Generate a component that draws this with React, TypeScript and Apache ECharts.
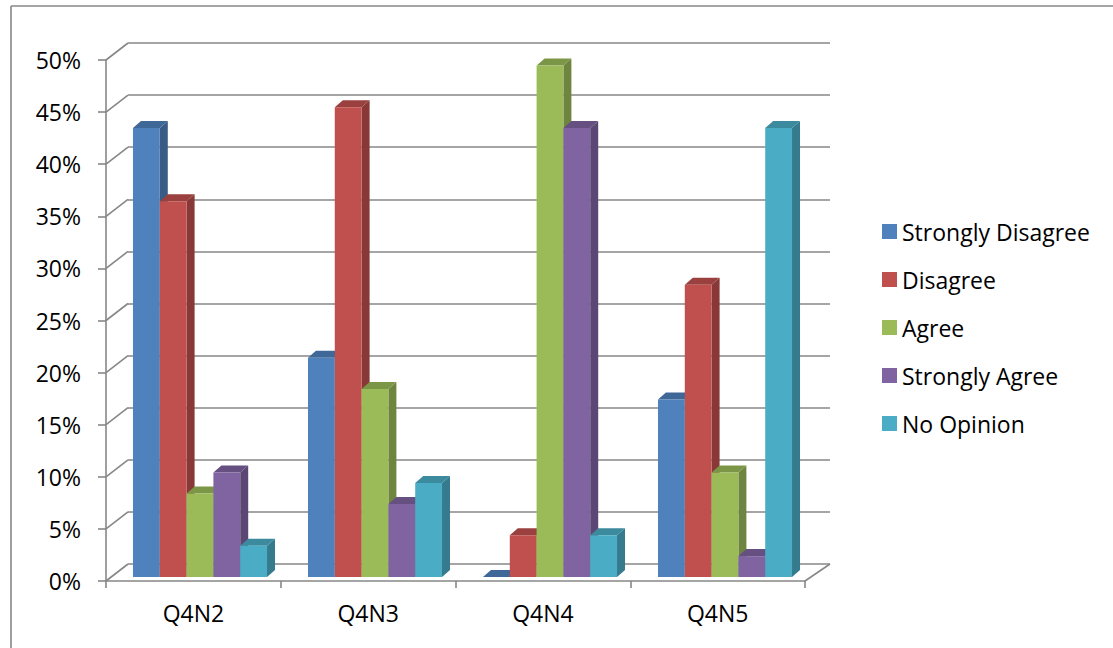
import React, { useEffect, useRef } from "react";
import * as echarts from "echarts";

const categories = ["Q4N2", "Q4N3", "Q4N4", "Q4N5"];
const seriesNames = ["Strongly Disagree", "Disagree", "Agree", "Strongly Agree", "No Opinion"];
const stronglyDisagree = [43, 21, 0, 17];
const disagree = [36, 45, 4, 28];
const agree = [8, 18, 49, 10];
const stronglyAgree = [10, 7, 43, 2];
const noOpinion = [3, 9, 4, 43];
const seriesValues = [stronglyDisagree, disagree, agree, stronglyAgree, noOpinion];
const yTicks = [0, 5, 10, 15, 20, 25, 30, 35, 40, 45, 50];

const colors = ["#4F81BD", "#C0504D", "#9BBB59", "#8064A2", "#4BACC6"];
const FONT = "Open Sans";
const FONT_SIZE = 23;
const GRID_COLOR = "#878787";
const GAP = 0.234;
const DX = 8;
const DY = -7;

function shade(hex: string, f: number) {
  const n = parseInt(hex.slice(1), 16);
  const r = Math.round(((n >> 16) & 255) * f);
  const g = Math.round(((n >> 8) & 255) * f);
  const b = Math.round((n & 255) * f);
  return `rgb(${r},${g},${b})`;
}

export default function App() {
  const ref = useRef<HTMLDivElement>(null);
  useEffect(() => {
    if (!ref.current) return;
    const chart = echarts.init(ref.current, null, { renderer: "svg" });
    const N = seriesNames.length;

    const barSeries = seriesNames.map((name, si) => ({
      name,
      type: "custom",
      xAxisIndex: 2,
      yAxisIndex: 2,
      clip: false,
      z: 5,
      itemStyle: { color: colors[si] },
      encode: { x: 0, y: 1 },
      data: seriesValues[si].map((v, i) => [i, v]),
      renderItem: (params: any, api: any) => {
        const cat = api.value(0);
        const v = api.value(1);
        const base = api.coord([cat, 0]);
        const top = api.coord([cat, v]);
        const catW = api.size([1, 0])[0];
        const bw = (catW * (1 - GAP)) / N;
        const x0 = base[0] - (catW * (1 - GAP)) / 2 + si * bw;
        const h = base[1] - top[1];
        return {
          type: "group",
          children: [
            {
              type: "polygon",
              shape: {
                points: [
                  [x0 + bw, top[1]],
                  [x0 + bw + DX, top[1] + DY],
                  [x0 + bw + DX, base[1] + DY],
                  [x0 + bw, base[1]],
                ],
              },
              style: { fill: shade(colors[si], 0.71) },
            },
            {
              type: "polygon",
              shape: {
                points: [
                  [x0, top[1]],
                  [x0 + DX, top[1] + DY],
                  [x0 + bw + DX, top[1] + DY],
                  [x0 + bw, top[1]],
                ],
              },
              style: { fill: shade(colors[si], 0.8) },
            },
            {
              type: "rect",
              shape: { x: x0, y: top[1], width: bw, height: h },
              style: { fill: colors[si] },
            },
          ],
        };
      },
    }));

    const diagSeries = {
      type: "custom",
      xAxisIndex: 1,
      yAxisIndex: 1,
      clip: false,
      silent: true,
      z: 1,
      data: yTicks.map((t) => [0, t]),
      encode: { x: 0, y: 1 },
      renderItem: (params: any, api: any) => {
        const v = api.value(1);
        const p = api.coord([0, v]);
        const cs = params.coordSys;
        const lx = cs.x;
        const children: any[] = [
          {
            type: "line",
            shape: { x1: lx, y1: p[1], x2: lx + 22, y2: p[1] - 17 },
            style: { stroke: GRID_COLOR, lineWidth: 1.6 },
          },
        ];
        if (v === 0) {
          const rx = cs.x + cs.width;
          children.push({
            type: "line",
            shape: { x1: rx, y1: p[1], x2: rx + 25, y2: p[1] - 17 },
            style: { stroke: GRID_COLOR, lineWidth: 1.6 },
          });
        }
        return { type: "group", children };
      },
    };

    chart.setOption({
      animation: false,
      backgroundColor: "#ffffff",
      textStyle: { fontFamily: FONT },
      grid: [
        { left: 128, top: 43, width: 702, height: 521 },
        { left: 106, top: 60, width: 699, height: 521 },
        { left: 112.5, top: 55, width: 700, height: 522 },
      ],
      xAxis: [
        { type: "category", gridIndex: 0, data: categories, show: false },
        {
          type: "category",
          gridIndex: 1,
          data: categories,
          axisLine: { show: true, lineStyle: { color: GRID_COLOR, width: 1.6 } },
          axisTick: { show: true, length: 7, lineStyle: { color: GRID_COLOR, width: 1.6 } },
          axisLabel: { color: "#000", fontSize: FONT_SIZE, fontFamily: FONT, margin: 20 },
        },
        { type: "category", gridIndex: 2, data: categories, show: false },
      ],
      yAxis: [
        {
          type: "value",
          gridIndex: 0,
          min: 0,
          max: 50,
          interval: 5,
          axisLine: { show: false },
          axisTick: { show: false },
          axisLabel: { show: false },
          splitLine: { show: true, lineStyle: { color: GRID_COLOR, width: 1.6 } },
        },
        {
          type: "value",
          gridIndex: 1,
          min: 0,
          max: 50,
          interval: 5,
          axisLine: { show: true, lineStyle: { color: GRID_COLOR, width: 1.6 } },
          axisTick: { show: true, length: 8, lineStyle: { color: GRID_COLOR, width: 1.6 } },
          axisLabel: { color: "#000", fontSize: FONT_SIZE, fontFamily: FONT, margin: 25, formatter: "{value}%" },
          splitLine: { show: false },
        },
        { type: "value", gridIndex: 2, min: 0, max: 50, show: false, splitLine: { show: false } },
      ],
      legend: {
        orient: "vertical",
        left: 882,
        top: 220,
        padding: 0,
        itemWidth: 15,
        itemHeight: 15,
        itemGap: 25,
        icon: "rect",
        data: seriesNames,
        textStyle: { fontSize: FONT_SIZE, lineHeight: 23, color: "#000", fontFamily: FONT },
      },
      graphic: [
        { type: "line", shape: { x1: 11, y1: 6, x2: 1113, y2: 6 }, style: { stroke: GRID_COLOR, lineWidth: 1.6 } },
        { type: "line", shape: { x1: 11, y1: 6, x2: 11, y2: 648 }, style: { stroke: GRID_COLOR, lineWidth: 1.6 } },
      ],
      series: [diagSeries, ...barSeries],
    });
    return () => chart.dispose();
  }, []);
  return (
    <div
      ref={ref}
      style={{ position: "fixed", left: 0, top: 0, width: 1113, height: 648, background: "#fff" }}
    />
  );
}
